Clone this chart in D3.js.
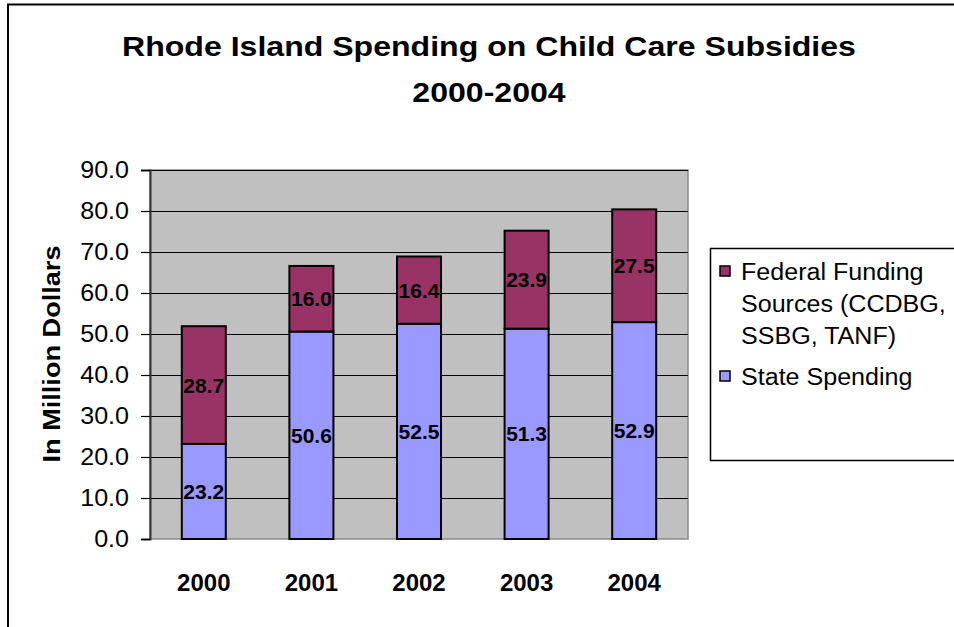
<!DOCTYPE html>
<html>
<head>
<meta charset="utf-8">
<script src="https://cdn.jsdelivr.net/npm/d3@7"></script>
<style>
  html, body { margin: 0; padding: 0; background: #fff; }
  svg { display: block; font-family: "Liberation Sans", Arial, sans-serif; }
</style>
</head>
<body>
<svg id="chart" width="954" height="627"></svg>
<script>
// Rhode Island child care subsidy spending, millions of dollars
const years = ["2000", "2001", "2002", "2003", "2004"];
const stateSpending = [23.2, 50.6, 52.5, 51.3, 52.9];
const federalFunding = [28.7, 16.0, 16.4, 23.9, 27.5];
const yTicks = [0, 10, 20, 30, 40, 50, 60, 70, 80, 90];
const titleLines = ["Rhode Island Spending on Child Care Subsidies", "2000-2004"];
const yTitle = "In Million Dollars";

const colors = { federal: "#993366", state: "#9999FF", plot: "#C0C0C0" };

const svg = d3.select("#chart");

// Widen a text element along its reading direction by factor k
function widen(sel, k) {
  sel.each(function () {
    const len = this.getComputedTextLength();
    d3.select(this).attr("textLength", len * k).attr("lengthAdjust", "spacingAndGlyphs");
  });
  return sel;
}

// Outer chart frame
svg.append("rect")
  .attr("x", 8).attr("y", 4.5).attr("width", 980).attr("height", 700)
  .attr("fill", "none").attr("stroke", "#000").attr("stroke-width", 2);

// Plot area
const plot = { left: 150, right: 688, top: 170, bottom: 539 };

const x = d3.scaleBand()
  .domain(years)
  .range([plot.left, plot.right])
  .paddingInner(0.591)
  .paddingOuter(0.2955);

const y = d3.scaleLinear().domain([0, 90]).range([plot.bottom, plot.top]);

svg.append("rect")
  .attr("x", plot.left).attr("y", plot.top)
  .attr("width", plot.right - plot.left).attr("height", plot.bottom - plot.top)
  .attr("fill", colors.plot).attr("stroke", "#8a8a8a").attr("stroke-width", 1.5);

// Horizontal gridlines
svg.append("g")
  .selectAll("line")
  .data(yTicks.filter(d => d > 0))
  .join("line")
  .attr("x1", plot.left).attr("x2", plot.right)
  .attr("y1", d => Math.round(y(d)) + 0.5).attr("y2", d => Math.round(y(d)) + 0.5)
  .attr("stroke", "#000").attr("stroke-width", 1);

// Stacked bars
const rows = years.map((yr, i) => ({ year: yr, state: stateSpending[i], federal: federalFunding[i] }));
const stack = d3.stack().keys(["state", "federal"])(rows);

const barG = svg.append("g");
stack.forEach(layer => {
  barG.append("g")
    .selectAll("rect")
    .data(layer)
    .join("rect")
    .attr("x", d => x(d.data.year))
    .attr("y", d => y(d[1]))
    .attr("width", x.bandwidth())
    .attr("height", d => y(d[0]) - y(d[1]))
    .attr("fill", colors[layer.key])
    .attr("stroke", "#000")
    .attr("stroke-width", 2);
});

// Segment value labels
stack.forEach(layer => {
  barG.append("g")
    .selectAll("text")
    .data(layer)
    .join("text")
    .attr("x", d => x(d.data.year) + x.bandwidth() / 2)
    .attr("y", d => (y(d[0]) + y(d[1])) / 2)
    .attr("dy", "0.36em")
    .attr("text-anchor", "middle")
    .attr("font-size", 21)
    .attr("font-weight", "bold")
    .attr("fill", "#000")
    .text(d => (d[1] - d[0]).toFixed(1));
});

// Y axis
const yAxis = svg.append("g")
  .attr("transform", `translate(${plot.left},0)`)
  .call(d3.axisLeft(y).tickValues(yTicks).tickFormat(d3.format(".1f")).tickSize(9).tickPadding(12));
yAxis.select(".domain").attr("stroke", "#333").attr("stroke-width", 2);
yAxis.selectAll(".tick line").attr("stroke", "#000").attr("stroke-width", 1.2);
yAxis.selectAll(".tick text")
  .attr("font-family", "Liberation Sans, Arial, sans-serif")
  .attr("font-size", 23)
  .attr("fill", "#000")
  .call(widen, 1.09);

// Category labels
svg.append("g")
  .selectAll("text")
  .data(years)
  .join("text")
  .attr("x", d => x(d) + x.bandwidth() / 2)
  .attr("y", 591)
  .attr("text-anchor", "middle")
  .attr("font-size", 24)
  .attr("font-weight", "bold")
  .text(d => d);

// Y axis title
svg.append("text")
  .attr("transform", "translate(60,354) rotate(-90)")
  .attr("text-anchor", "middle")
  .attr("font-size", 24)
  .attr("font-weight", "bold")
  .text(yTitle)
  .call(widen, 1.13);

// Title
svg.append("g")
  .selectAll("text")
  .data(titleLines)
  .join("text")
  .attr("x", 489)
  .attr("y", (d, i) => i === 0 ? 56 : 102)
  .attr("text-anchor", "middle")
  .attr("font-size", 28)
  .attr("font-weight", "bold")
  .text(d => d)
  .call(widen, 1.145);

// Legend
const legend = svg.append("g");
legend.append("rect")
  .attr("x", 710.5).attr("y", 248.5).attr("width", 300).attr("height", 212)
  .attr("fill", "#fff").attr("stroke", "#000").attr("stroke-width", 1.5);

const legendItems = [
  { key: "federal", lines: ["Federal Funding", "Sources (CCDBG,", "SSBG, TANF)"], y: 280 },
  { key: "state", lines: ["State Spending"], y: 385 }
];
legendItems.forEach(item => {
  legend.append("rect")
    .attr("x", 720).attr("y", item.y - 14).attr("width", 10).attr("height", 10)
    .attr("fill", colors[item.key]).attr("stroke", "#000").attr("stroke-width", 1.5);
  legend.append("g")
    .selectAll("text")
    .data(item.lines)
    .join("text")
    .attr("x", 741)
    .attr("y", (d, i) => item.y + i * 32)
    .attr("font-size", 23)
    .attr("fill", "#000")
    .text(d => d)
    .call(widen, 1.09);
});
</script>
</body>
</html>
